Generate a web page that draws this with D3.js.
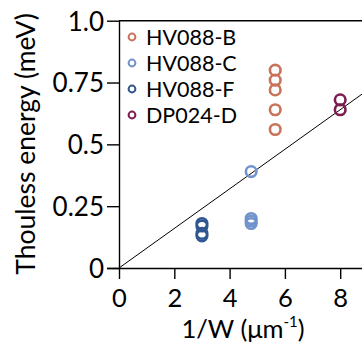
<!DOCTYPE html>
<html><head><meta charset="utf-8">
<script src="https://cdn.jsdelivr.net/npm/d3@7"></script>
<style>body{margin:0;background:#fff}svg{display:block}text{font-family:Lato,sans-serif}</style>
</head><body><svg id="c" width="362" height="344"></svg>
<script>
const seriesNames = ["HV088-B","HV088-C","HV088-F","DP024-D"];
const seriesColors = ["#c8735a","#7193cc","#2f5690","#7c1c50"];
const xB = [5.65,5.65,5.65,5.65,5.65];
const yB = [0.80,0.76,0.72,0.64,0.56];
const xC = [4.78,4.78,4.78,4.78];
const yC = [0.39,0.20,0.19,0.18];
const xF = [3.0,3.0,3.0,3.0];
const yF = [0.18,0.17,0.14,0.13];
const xD = [8.0,8.0];
const yD = [0.68,0.64];
const fitSlope = 0.08;
const xTicks = [0,2,4,6,8];
const yTicks = [0,0.25,0.5,0.75,1.0];
const yTickLabels = ["0","0.25","0.5","0.75","1.0"];

const svg = d3.select("#c");
const x = d3.scaleLinear().domain([0,9]).range([119,119+27.65*9]);
const y = d3.scaleLinear().domain([0,1]).range([268,20.7]);

svg.append("g").attr("transform","translate(0,268)")
  .call(d3.axisBottom(x).tickValues(xTicks).tickSize(11).tickPadding(5).tickFormat(d3.format("d")))
  .call(g=>{g.select(".domain").attr("d",`M107,0.5H362`).attr("stroke","#000").attr("stroke-width",1.4);
    g.selectAll("line").attr("stroke-width",1.4);
    g.selectAll("text").attr("font-size",25.5).attr("fill","#000").attr("y",39).attr("dy",0);});
svg.append("g").attr("transform","translate(119,0)")
  .call(d3.axisLeft(y).tickValues(yTicks).tickSize(12).tickPadding(3).tickFormat((d,i)=>yTickLabels[i]))
  .call(g=>{g.select(".domain").attr("d",`M0.5,${y(0)}V${y(1)}`).attr("stroke-width",1.4);
    g.selectAll("line").attr("stroke-width",1.4);
    g.selectAll("text").attr("font-size",26).attr("fill","#000").attr("x",-15).attr("dy","0.36em");});
// top frame
svg.append("line").attr("x1",119).attr("x2",362).attr("y1",y(1)).attr("y2",y(1)).attr("stroke","#000").attr("stroke-width",1.4);

// fit line
svg.append("line").attr("x1",x(0)).attr("y1",y(0)).attr("x2",x(9)).attr("y2",y(fitSlope*9))
  .attr("stroke","#000").attr("stroke-width",1);

const sets = [[xB,yB],[xC,yC],[xF,yF],[xD,yD]];
sets.forEach(([xs,ys],k)=>{
  svg.append("g").selectAll("circle").data(xs.map((v,i)=>[v,ys[i]])).join("circle")
    .attr("cx",d=>x(d[0])).attr("cy",d=>y(d[1])).attr("r",5.3)
    .attr("fill","none").attr("stroke",seriesColors[k]).attr("stroke-width",2.6);
});

// legend
const leg = svg.append("g");
seriesNames.forEach((n,i)=>{
  const cy = 37 + i*26;
  leg.append("circle").attr("cx",132).attr("cy",cy).attr("r",3.4).attr("fill","none")
    .attr("stroke",seriesColors[i]).attr("stroke-width",2);
  leg.append("text").attr("x",146).attr("y",cy+8).attr("font-size",21.5).attr("fill","#000").text(n);
});

// axis titles
svg.append("text").attr("transform","translate(35,144) rotate(-90)").attr("text-anchor","middle")
  .attr("font-size",26.5).attr("fill","#000").text("Thouless energy (meV)");
const xt = svg.append("text").attr("x",243).attr("y",337.5).attr("text-anchor","middle")
  .attr("font-size",25.5).attr("fill","#000");
xt.append("tspan").text("1/W (μm");
xt.append("tspan").attr("font-size",15).attr("dy",-11).text("-1");
xt.append("tspan").attr("dy",11).text(")");
</script></body></html>
